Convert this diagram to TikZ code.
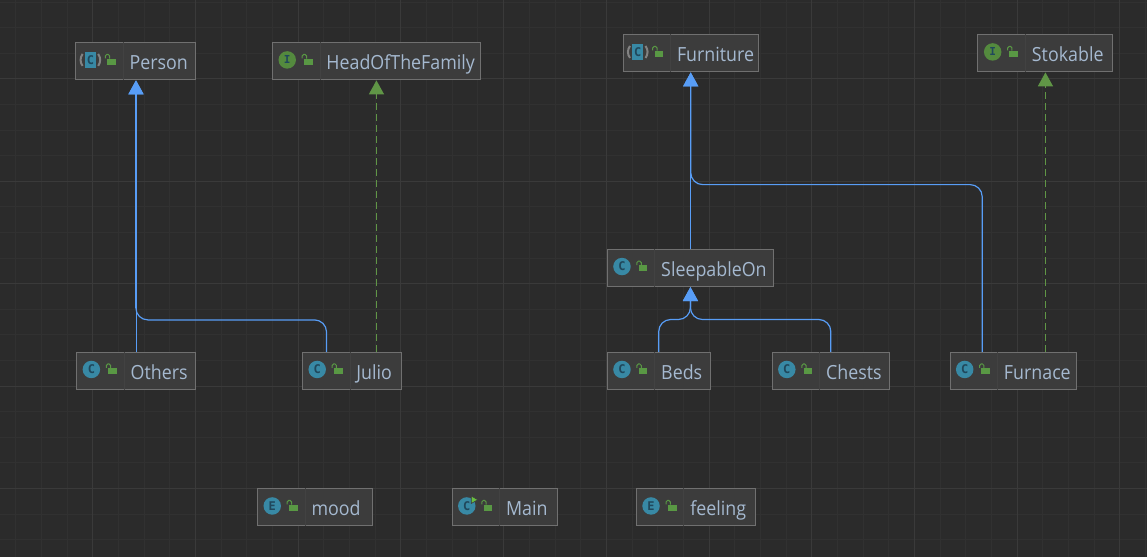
\documentclass[tikz,border=0pt]{standalone}
\usepackage{fontspec}
\setmainfont{Open Sans}[FakeStretch=0.915]
\newfontfamily\iconfont{DejaVu Sans Mono}
\usetikzlibrary{positioning, arrows.meta}
\definecolor{canvasbg}{RGB}{43,43,43}
\definecolor{minorline}{RGB}{49,49,49}
\definecolor{majorline}{RGB}{58,58,58}
\definecolor{boxfill}{RGB}{60,60,60}
\definecolor{boxline}{RGB}{112,112,112}
\definecolor{boxsep}{RGB}{66,66,66}
\definecolor{nametext}{RGB}{165,185,208}
\definecolor{extendblue}{RGB}{88,157,246}
\definecolor{implgreen}{RGB}{96,150,70}
\definecolor{classteal}{RGB}{56,137,165}
\definecolor{letterdark}{RGB}{32,72,92}
\definecolor{ifacegreen}{RGB}{84,138,62}
\definecolor{lockgreen}{RGB}{89,152,68}
\definecolor{runarrow}{RGB}{106,190,64}
\definecolor{parengray}{RGB}{130,130,130}

\begin{document}
\begin{tikzpicture}[
        x=1pt, y=-1pt,
        umlbox/.style={rectangle, draw=boxline, fill=boxfill, line width=1pt, text=nametext, font=\fontsize{19.5}{22}\selectfont, inner xsep=0pt, inner ysep=0pt, text width=#1, text height=26.8pt, text depth=10.2pt, align=left, execute at begin node=\hspace*{54pt}},
        classicon/.style={circle, fill=classteal, text=letterdark, inner sep=0pt, minimum size=17.5pt, font=\iconfont\bfseries\fontsize{12}{12}\selectfont},
        abstracticon/.style={rectangle, fill=classteal, text=letterdark, inner sep=0pt, minimum width=11pt, minimum height=16pt, font=\iconfont\bfseries\fontsize{12}{12}\selectfont},
        ifaceicon/.style={circle, fill=ifacegreen, text=letterdark, inner sep=0pt, minimum size=17.5pt, font=\iconfont\bfseries\fontsize{11}{11}\selectfont},
        extends/.style={draw=extendblue, line width=1.2pt, -{Triangle[width=15pt, length=14pt, fill=extendblue]}},
        implements/.style={draw=implgreen, line width=1.5pt, dash pattern=on 7pt off 4pt, -{Triangle[width=15pt, length=14pt, fill=implgreen]}},
        padlock/.pic={
            \fill[lockgreen] (32,-2.8) rectangle (40.7,3.2);
            \draw[lockgreen, line width=1pt, rounded corners=1.5pt] (30.2,-3) -- (30.2,-7) -- (34.5,-7) -- (34.5,-2.8);
        }
    ]
        \fill[canvasbg] (0,0) rectangle (1147,557);
        \foreach \k in {0,...,44} {
            \draw[minorline, line width=0.8pt] ({15.2+25.7*\k},0) -- ({15.2+25.7*\k},557);
        }
        \foreach \k in {0,...,21} {
            \draw[minorline, line width=0.8pt] (0,{1.5+25.62*\k}) -- (1147,{1.5+25.62*\k});
        }
        \foreach \k in {0,...,10} {
            \draw[majorline, line width=0.9pt] ({92.3+102.8*\k},0) -- ({92.3+102.8*\k},557);
        }
        \foreach \k in {0,...,4} {
            \draw[majorline, line width=0.9pt] (0,{78.3+102.5*\k}) -- (1147,{78.3+102.5*\k});
        }

        \node[umlbox=120pt] (Person) at (135.3,61) {Person};
        \node[umlbox=208pt] (HeadOfTheFamily) at (376.3,61) {HeadOfTheFamily};
        \node[umlbox=135.4pt] (Furniture) at (690.8,53) {Furniture};
        \node[umlbox=135pt] (Stokable) at (1045.8,53) {Stokable};
        \node[umlbox=166.4pt] (SleepableOn) at (690.5,267.8) {SleepableOn};
        \node[umlbox=119pt] (Others) at (135.8,370.8) {Others};
        \node[umlbox=99pt] (Julio) at (351.8,370.8) {Julio};
        \node[umlbox=103pt] (Beds) at (658.8,370.8) {Beds};
        \node[umlbox=117.4pt] (Chests) at (831,370.8) {Chests};
        \node[umlbox=126.4pt] (Furnace) at (1013.5,370.8) {Furnace};
        \node[umlbox=115pt] (mood) at (314.8,507.4) {mood};
        \node[umlbox=105.6pt] (Main) at (504.8,507.4) {Main};
        \node[umlbox=119pt] (feeling) at (695.9,507.4) {feeling};

        \foreach \boxname/\kind/\letter in {Person/abstracticon/C, HeadOfTheFamily/ifaceicon/I, Furniture/abstracticon/C, Stokable/ifaceicon/I, SleepableOn/classicon/C, Others/classicon/C, Julio/classicon/C, Beds/classicon/C, Chests/classicon/C, Furnace/classicon/C, mood/classicon/E, Main/classicon/C, feeling/classicon/E} {
            \draw[boxsep, line width=0.8pt] ([xshift=48pt]\boxname.north west) -- ([xshift=48pt]\boxname.south west);
            \node[\kind] (\boxname-icon) at ([xshift=15.2pt, yshift=1.5pt]\boxname.west) {\letter};
            \pic at (\boxname.west) {padlock};
        }
        \foreach \boxname in {Person, Furniture} {
            \draw[parengray, line width=2pt] ([xshift=-7.8pt, yshift=6pt]\boxname-icon.center) to[bend right=35] ([xshift=-7.8pt, yshift=-6pt]\boxname-icon.center);
            \draw[parengray, line width=2pt] ([xshift=7.8pt, yshift=6pt]\boxname-icon.center) to[bend left=35] ([xshift=7.8pt, yshift=-6pt]\boxname-icon.center);
        }
        \fill[runarrow, draw=boxfill, line width=0.6pt] ([xshift=4.5pt, yshift=10pt]Main-icon.center) -- ++(0,7.5) -- ++(6.5,-3.7) -- cycle;

        \coordinate (personBend) at (135.5,319.7);
        \coordinate (furnitureBend) at (690.8,184.3);
        \coordinate (sleepableBend) at (690.5,319.3);

        \draw[extends] (Others.north) -- (Others.north |- Person.south);
        \draw[extends, rounded corners=12pt] ([xshift=-25.5pt]Julio.north) |- (personBend) -- (personBend |- Person.south);
        \draw[implements] (Julio.north -| HeadOfTheFamily.south) -- (HeadOfTheFamily.south);
        \draw[extends] (SleepableOn.north -| Furniture.south) -- (Furniture.south);
        \draw[extends, rounded corners=12pt] ([xshift=-31pt]Furnace.north) |- (furnitureBend) -- (Furniture.south);
        \draw[implements] (Furnace.north -| Stokable.south) -- (Stokable.south);
        \draw[extends, rounded corners=12pt] (Beds.north) |- (sleepableBend) -- (SleepableOn.south);
        \draw[extends, rounded corners=12pt] (Chests.north) |- (sleepableBend) -- (SleepableOn.south);
    \end{tikzpicture}
\end{document}
